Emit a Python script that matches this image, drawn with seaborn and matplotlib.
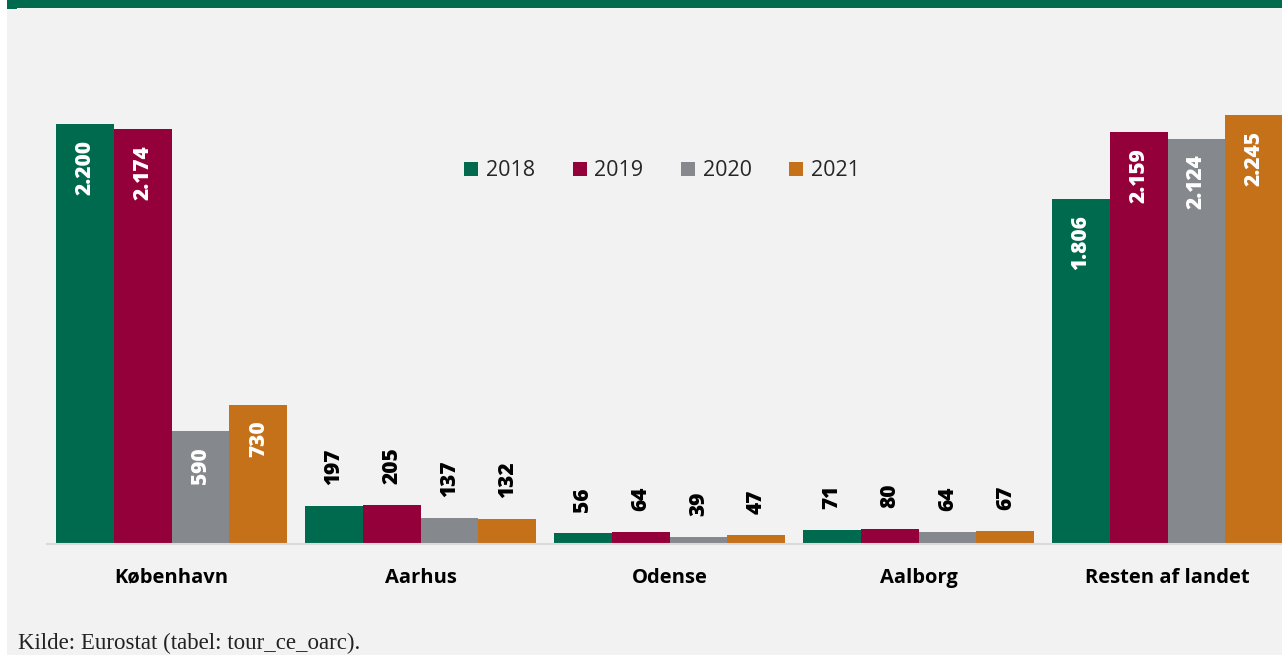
import matplotlib
matplotlib.use("Agg")
import matplotlib.pyplot as plt
import matplotlib.patches as mpatches
import seaborn as sns
import pandas as pd
import numpy as np

categories = ["København", "Aarhus", "Odense", "Aalborg", "Resten af landet"]
years = ["2018", "2019", "2020", "2021"]
v2018 = [2200, 197, 56, 71, 1806]
v2019 = [2174, 205, 64, 80, 2159]
v2020 = [590, 137, 39, 64, 2124]
v2021 = [730, 132, 47, 67, 2245]
colors = ["#006A4E", "#93003A", "#85888C", "#C5711A"]
source = "Kilde: Eurostat (tabel: tour_ce_oarc)."

rows = []
for y, vals in zip(years, [v2018, v2019, v2020, v2021]):
    for c, v in zip(categories, vals):
        rows.append({"Område": c, "År": y, "Værdi": v})
df = pd.DataFrame(rows)

sns.set_theme(style="white")
plt.rcParams["font.family"] = ["Open Sans", "DejaVu Sans"]

W, H = 1282, 655
fig = plt.figure(figsize=(W / 100, H / 100), dpi=100)
fig.patch.set_facecolor("white")
# background panel and top band
fig.add_artist(mpatches.Rectangle((7 / W, 0), 1, 1, transform=fig.transFigure,
                                  facecolor="#F2F2F2", edgecolor="none", zorder=-10))
fig.add_artist(mpatches.Rectangle((7 / W, 1 - 8 / H), 1, 8 / H, transform=fig.transFigure,
                                  facecolor="#006A4E", edgecolor="none", zorder=-5))
fig.add_artist(mpatches.Rectangle((7 / W, 1 - 9 / H), 10 / W, 9 / H, transform=fig.transFigure,
                                  facecolor="#006A4E", edgecolor="none", zorder=-5))

# axes: baseline y=544px, x from 47 to 1292px, 2200 -> y=124px
x0, x1 = 47, 1292
base = 544
px_per_unit = (544 - 124) / 2200.0
top_px = 40
ymax = (base - top_px) / px_per_unit
ax = fig.add_axes([x0 / W, (H - base) / H, (x1 - x0) / W, (base - top_px) / H])
ax.set_facecolor("none")

sns.barplot(data=df, x="Område", y="Værdi", hue="År", palette=colors,
            width=0.93, gap=0, ax=ax, legend=True, saturation=1,
            edgecolor="none", linewidth=0)
ax.set_xlim(-0.5, len(categories) - 0.5)
ax.set_ylim(0, ymax)

# value labels
pad_in = 16 / px_per_unit
pad_out = 21 / px_per_unit
for cont in ax.containers:
    for bar in cont:
        h = bar.get_height()
        xc = bar.get_x() + bar.get_width() / 2
        txt = f"{int(round(h)):,}".replace(",", ".")
        if h >= 500:
            ax.text(xc, h - pad_in, txt, rotation=90, ha="center", va="top",
                    color="white", fontsize=15, fontweight=800)
        else:
            ax.text(xc, h + pad_out, txt, rotation=90, ha="center", va="bottom",
                    color="black", fontsize=15, fontweight=800)

for s in ["top", "right", "left"]:
    ax.spines[s].set_visible(False)
ax.spines["bottom"].set_color("#D9D9D9")
ax.spines["bottom"].set_linewidth(1.5)
ax.set_yticks([])
ax.set_xlabel("")
ax.set_ylabel("")
ax.set_xticks(np.arange(len(categories)))
ax.set_xticklabels(categories, fontsize=14.5, fontweight="bold", color="black")
ax.tick_params(axis="x", which="major", length=0, pad=17)
ax.set_xticks(np.arange(len(categories) + 1) - 0.5, minor=True)
ax.tick_params(axis="x", which="minor", length=8, width=1.5, color="#D9D9D9", direction="out")

leg = ax.legend(loc="center", bbox_to_anchor=((662 - x0) / (x1 - x0), (base - 171) / (base - top_px)),
                ncol=4, frameon=False, fontsize=15.5, handlelength=0.65, handleheight=0.65,
                columnspacing=1.75, handletextpad=0.35, borderaxespad=0)

fig.text(18 / W, 1 - 649 / H, source, fontsize=16.5, family=["Liberation Serif", "DejaVu Serif"],
         color="#222222", ha="left", va="baseline")

fig.savefig("out.png", dpi=100, facecolor=fig.get_facecolor())
